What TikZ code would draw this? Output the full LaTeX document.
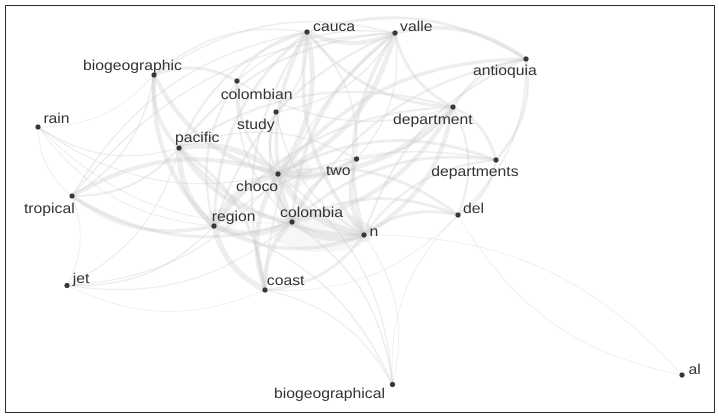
\documentclass[tikz,border=0pt]{standalone}
\usepackage{fontspec}
\setmainfont{Liberation Sans}
\newcommand\W[1]{\scalebox{1.1}[1]{#1}}
\newcommand\ed[3]{\draw[edge, line width=#3*1.4pt] (#1) to[bend right=24] (#2);}
\tikzset{
  edge/.style={draw=black!20, draw opacity=0.33},
  dot/.style={circle, fill=black!78, inner sep=0pt, minimum size=5.4pt},
  lbl/.style={inner sep=0pt, text=black!80, font=\fontsize{14.3}{16}\selectfont},
  loop/.style={fill=black!25, fill opacity=0.12, draw=none}
}
\begin{document}
\begin{tikzpicture}[x=1pt,y=-1pt]
\useasboundingbox (0,0) rectangle (719,418);
\fill[white] (0,0) rectangle (719,418);
% node positions
\coordinate (cauca) at (307,32);
\coordinate (valle) at (395,33);
\coordinate (antioquia) at (526,59);
\coordinate (biogeographic) at (154,75);
\coordinate (colombian) at (237,81);
\coordinate (study) at (276,112);
\coordinate (department) at (453,107);
\coordinate (rain) at (38,127);
\coordinate (pacific) at (179,148);
\coordinate (two) at (356.5,159);
\coordinate (departments) at (496,160);
\coordinate (choco) at (278,174);
\coordinate (tropical) at (72,196);
\coordinate (del) at (458,215);
\coordinate (region) at (214,226);
\coordinate (colombia) at (292,222);
\coordinate (n) at (364,235);
\coordinate (jet) at (67,285.5);
\coordinate (coast) at (265,290);
\coordinate (biogeographical) at (392.5,384.5);
\coordinate (al) at (682,375);
% self-loop blobs
\fill[loop] (322,232) ellipse [x radius=50, y radius=20];
\fill[loop] (222,220) ellipse [x radius=16, y radius=12];
\fill[loop] (290,172) ellipse [x radius=22, y radius=16];
\fill[loop] (362,232) ellipse [x radius=12, y radius=10];
% edges
\ed{choco}{colombia}{5}
\ed{choco}{region}{4.5}
\ed{choco}{n}{4.5}
\ed{colombia}{n}{4.5}
\ed{region}{colombia}{4}
\ed{choco}{pacific}{4}
\ed{pacific}{region}{4}
\ed{region}{coast}{4}
\ed{choco}{coast}{3.5}
\ed{colombia}{coast}{3}
\ed{choco}{department}{3.5}
\ed{choco}{cauca}{3.5}
\ed{choco}{valle}{3.5}
\ed{cauca}{valle}{3}
\ed{choco}{two}{3}
\ed{two}{n}{3}
\ed{colombia}{department}{3}
\ed{n}{department}{3}
\ed{pacific}{colombia}{3}
\ed{choco}{tropical}{3}
\ed{tropical}{region}{2.5}
\ed{biogeographic}{choco}{3}
\ed{biogeographic}{region}{3}
\ed{biogeographic}{pacific}{2.5}
\ed{cauca}{n}{2.5}
\ed{valle}{n}{2.5}
\ed{cauca}{colombia}{2.5}
\ed{valle}{colombia}{2.5}
\ed{antioquia}{choco}{2.5}
\ed{antioquia}{department}{2}
\ed{antioquia}{valle}{2.5}
\ed{antioquia}{cauca}{2}
\ed{departments}{choco}{2}
\ed{departments}{colombia}{2}
\ed{departments}{department}{2}
\ed{departments}{antioquia}{2}
\ed{del}{n}{2}
\ed{del}{choco}{2}
\ed{del}{colombia}{2}
\ed{region}{n}{2.5}
\ed{pacific}{n}{2}
\ed{colombian}{choco}{2}
\ed{colombian}{biogeographic}{2}
\ed{colombian}{region}{1.5}
\ed{study}{choco}{1.5}
\ed{study}{colombia}{1.5}
\ed{two}{colombia}{2}
\ed{two}{department}{1.5}
\ed{valle}{department}{2}
\ed{cauca}{department}{2}
\ed{cauca}{pacific}{1.5}
\ed{cauca}{region}{2}
\ed{valle}{region}{1.5}
\ed{coast}{n}{2}
\ed{coast}{pacific}{2}
\ed{tropical}{pacific}{1.5}
\ed{tropical}{colombia}{2}
\ed{tropical}{biogeographic}{1}
\ed{rain}{tropical}{0.6}
\ed{rain}{pacific}{0.8}
\ed{rain}{choco}{0.8}
\ed{rain}{colombia}{0.6}
\ed{rain}{region}{0.6}
\ed{rain}{biogeographic}{0.5}
\ed{jet}{tropical}{0.6}
\ed{jet}{region}{1}
\ed{jet}{choco}{0.8}
\ed{jet}{colombia}{0.8}
\ed{jet}{pacific}{0.8}
\ed{jet}{coast}{0.5}
\ed{biogeographical}{coast}{0.8}
\ed{biogeographical}{colombia}{1}
\ed{biogeographical}{choco}{1}
\ed{biogeographical}{region}{1}
\ed{biogeographical}{n}{0.6}
\ed{del}{biogeographical}{0.5}
\ed{al}{n}{0.5}
\ed{del}{al}{0.5}
\ed{coast}{del}{0.5}
\ed{del}{department}{1.5}
\ed{del}{departments}{1.5}
\ed{del}{antioquia}{1}
\ed{antioquia}{colombia}{1.5}
\ed{antioquia}{n}{1.5}
\ed{departments}{n}{1.5}
\ed{cauca}{biogeographic}{1}
\ed{cauca}{colombian}{1}
\ed{valle}{colombian}{1}
\ed{valle}{biogeographic}{1}
\ed{valle}{pacific}{1.5}
\ed{cauca}{tropical}{1}
\ed{valle}{tropical}{1}
\ed{department}{pacific}{1.5}
\ed{department}{region}{1.5}
\ed{departments}{region}{1}
\ed{two}{cauca}{1}
\ed{two}{valle}{1}
\ed{study}{cauca}{1}
\ed{study}{valle}{1}
\ed{study}{n}{1}
\ed{colombian}{colombia}{1}
\ed{colombian}{department}{1}
\ed{two}{pacific}{1}
\ed{cauca}{coast}{1.5}
\ed{valle}{coast}{1}
% frame
\draw[line width=1.3pt, draw=black!82] (5.5,5.5) rectangle (714.5,412.5);
% dots
\foreach \n in {cauca,valle,antioquia,biogeographic,colombian,study,department,rain,pacific,two,departments,choco,tropical,del,region,colombia,n,jet,coast,biogeographical,al}
  \node[dot] (\n-dot) at (\n) {};
% labels
\node[lbl, anchor=base west] (cauca-l) at (313,31) {\W{cauca}};
\node[lbl, anchor=base west] (valle-l) at (400,31) {\W{valle}};
\node[lbl, anchor=base] (antioquia-l) at (505,75.3) {\W{antioquia}};
\node[lbl, anchor=base] (biogeographic-l) at (132.5,70.7) {\W{biogeographic}};
\node[lbl, anchor=base] (colombian-l) at (256.7,99) {\W{colombian}};
\node[lbl, anchor=base] (study-l) at (256,129.3) {\W{study}};
\node[lbl, anchor=base] (department-l) at (433,124) {\W{department}};
\node[lbl, anchor=base west] (rain-l) at (43.3,123.3) {\W{rain}};
\node[lbl, anchor=base] (pacific-l) at (197.3,142.7) {\W{pacific}};
\node[lbl, anchor=base] (two-l) at (338.3,175) {\W{two}};
\node[lbl, anchor=base] (departments-l) at (475,176.7) {\W{departments}};
\node[lbl, anchor=base] (choco-l) at (257.2,191.7) {\W{choco}};
\node[lbl, anchor=base east] (tropical-l) at (75,213.3) {\W{tropical}};
\node[lbl, anchor=base west] (del-l) at (463,213) {\W{del}};
\node[lbl, anchor=base west] (region-l) at (211.7,221.7) {\W{region}};
\node[lbl, anchor=base west] (colombia-l) at (280,217.3) {\W{colombia}};
\node[lbl, anchor=base west] (n-l) at (369.3,236) {\W{n}};
\node[lbl, anchor=base west] (jet-l) at (72.7,283.3) {\W{jet}};
\node[lbl, anchor=base west] (coast-l) at (266.7,285) {\W{coast}};
\node[lbl, anchor=base east] (biogeographical-l) at (385.3,398.3) {\W{biogeographical}};
\node[lbl, anchor=base west] (al-l) at (688.3,374) {\W{al}};
\end{tikzpicture}
\end{document}
